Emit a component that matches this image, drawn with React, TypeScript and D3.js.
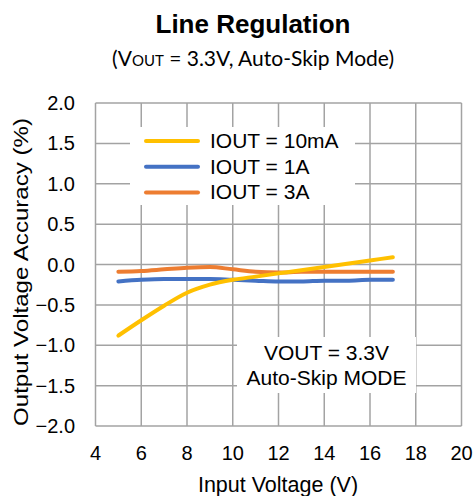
import React, { useEffect, useRef } from "react";
import * as d3 from "d3";

// input voltage (V)
const vin = [5, 6, 7, 8, 9, 10, 11, 12, 13, 14, 15, 16, 17];
// output voltage accuracy (%)
const iout10mA = [-0.88, -0.69, -0.51, -0.35, -0.25, -0.19, -0.15, -0.11, -0.07, -0.03, 0.01, 0.05, 0.09];
const iout1A = [-0.21, -0.19, -0.18, -0.18, -0.18, -0.19, -0.2, -0.21, -0.21, -0.2, -0.2, -0.19, -0.19];
const iout3A = [-0.09, -0.08, -0.06, -0.04, -0.03, -0.06, -0.09, -0.1, -0.09, -0.09, -0.09, -0.09, -0.09];

const seriesNames = ["IOUT = 10mA", "IOUT = 1A", "IOUT = 3A"];
const seriesColors = ["#ffc000", "#4472c4", "#ed7d31"];
const xTicks = [4, 6, 8, 10, 12, 14, 16, 18, 20];
const yTicks = [-2, -1.5, -1, -0.5, 0, 0.5, 1, 1.5, 2];

const FONT = "'Liberation Sans', Arial, sans-serif";

export default function App() {
  const ref = useRef<SVGSVGElement>(null);

  useEffect(() => {
    const svg = d3.select(ref.current);
    svg.selectAll("*").remove();

    const left = 95.5, right = 461.5, top = 103, bottom = 426;
    const x = d3.scaleLinear().domain([4, 20]).range([left, right]);
    const y = d3.scaleLinear().domain([-2, 2]).range([bottom, top]);

    // title
    svg.append("text")
      .attr("x", 253).attr("y", 33)
      .attr("text-anchor", "middle")
      .style("font-family", FONT).style("font-weight", "bold").style("font-size", "26px")
      .text("Line Regulation");

    const sub = svg.append("text")
      .attr("x", 253).attr("y", 66)
      .attr("text-anchor", "middle")
      .style("font-family", "Lato, sans-serif").style("font-size", "21px");
    sub.append("tspan").text("(V");
    sub.append("tspan").attr("font-size", "15px").text("OUT");
    sub.append("tspan").text(" = 3.3V, Auto-Skip Mode)");

    // grid
    const grid = svg.append("g").attr("stroke", "#a3a3a3").attr("stroke-width", 1.5);
    grid.selectAll(".vx").data(xTicks).enter().append("line")
      .attr("x1", (d) => x(d)).attr("x2", (d) => x(d))
      .attr("y1", top).attr("y2", bottom);
    grid.selectAll(".hy").data(yTicks).enter().append("line")
      .attr("x1", left).attr("x2", right)
      .attr("y1", (d) => y(d)).attr("y2", (d) => y(d));

    // tick labels
    svg.append("g").selectAll("text").data(yTicks).enter().append("text")
      .attr("x", 75).attr("y", (d) => y(d) + 7)
      .attr("text-anchor", "end")
      .style("font-family", FONT).style("font-size", "20px")
      .text((d) => d3.format(".1f")(d));
    svg.append("g").selectAll("text").data(xTicks).enter().append("text")
      .attr("x", (d) => x(d)).attr("y", 460)
      .attr("text-anchor", "middle")
      .style("font-family", FONT).style("font-size", "20px")
      .text((d) => d);

    // axis titles
    svg.append("text")
      .attr("x", 278).attr("y", 492)
      .attr("text-anchor", "middle")
      .style("font-family", FONT).style("font-size", "21.5px")
      .text("Input Voltage (V)");
    svg.append("text")
      .attr("transform", `translate(28,272) rotate(-90)`)
      .attr("text-anchor", "middle")
      .attr("textLength", 308).attr("lengthAdjust", "spacingAndGlyphs")
      .style("font-family", FONT).style("font-size", "21px")
      .text("Output Voltage Accuracy (%)");

    // legend box
    svg.append("rect")
      .attr("x", 130).attr("y", 127).attr("width", 225).attr("height", 78)
      .attr("fill", "#fff");
    const leg = svg.append("g");
    seriesNames.forEach((name, i) => {
      const ly = 141 + i * 25.7;
      leg.append("line")
        .attr("x1", 146).attr("x2", 198).attr("y1", ly).attr("y2", ly)
        .attr("stroke", seriesColors[i]).attr("stroke-width", 4).attr("stroke-linecap", "round");
      leg.append("text")
        .attr("x", 210).attr("y", ly + 7)
        .style("font-family", FONT).style("font-size", "21px")
        .text(name);
    });

    // annotation box
    svg.append("rect")
      .attr("x", 237).attr("y", 337).attr("width", 179).attr("height", 56)
      .attr("fill", "#fff");
    ["VOUT = 3.3V", "Auto-Skip MODE"].forEach((t, i) => {
      svg.append("text")
        .attr("x", 326.5).attr("y", 359.5 + i * 25.5)
        .attr("text-anchor", "middle")
        .style("font-family", FONT).style("font-size", "21px")
        .text(t);
    });

    // series
    const line = d3.line<number>()
      .x((_, i) => x(vin[i]))
      .y((d) => y(d))
      .curve(d3.curveMonotoneX);
    [iout3A, iout1A, iout10mA].forEach((vals, k) => {
      const idx = 2 - k;
      svg.append("path")
        .datum(vals)
        .attr("d", line)
        .attr("fill", "none")
        .attr("stroke", seriesColors[idx])
        .attr("stroke-width", 4)
        .attr("stroke-linecap", "round");
    });
  }, []);

  return (
    <svg ref={ref} width={476} height={496} style={{ position: "absolute", left: 0, top: 0 }} />
  );
}
